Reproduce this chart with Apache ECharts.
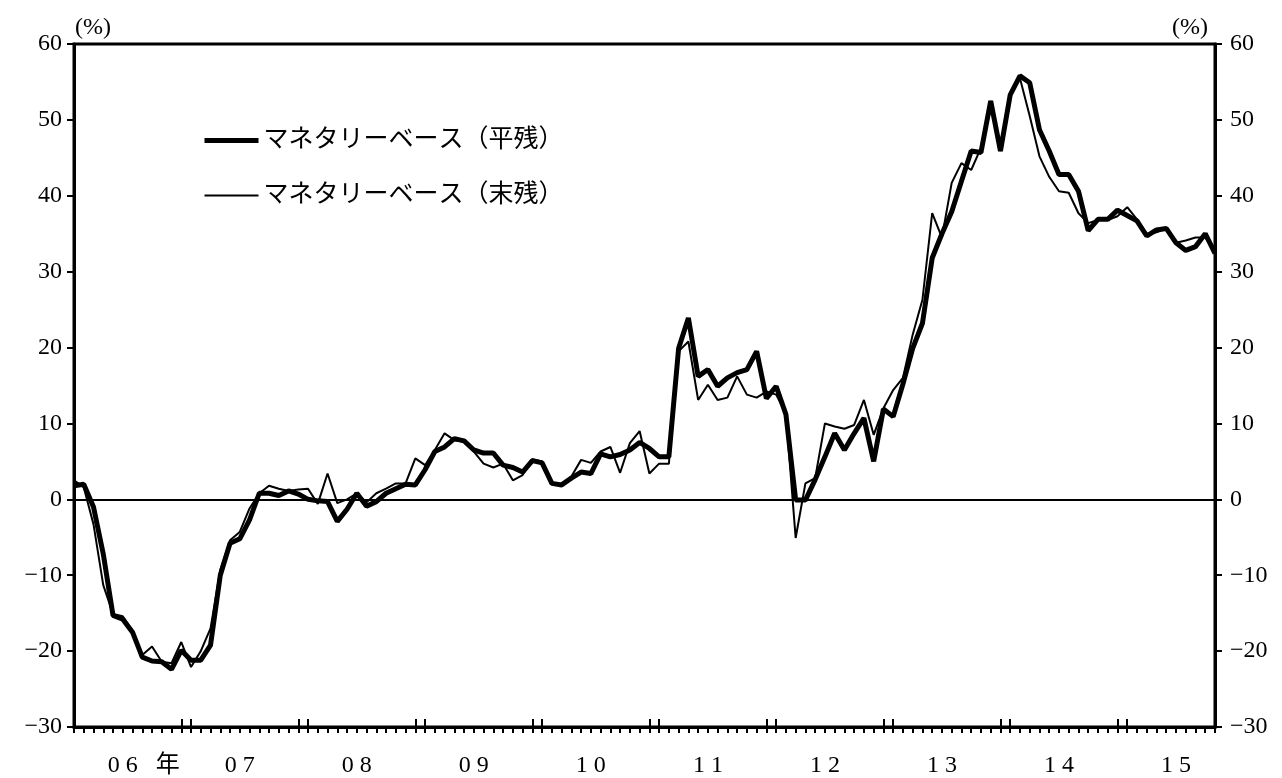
<!DOCTYPE html>
<html>
<head>
<meta charset="utf-8">
<script src="https://cdn.jsdelivr.net/npm/echarts@6/dist/echarts.min.js"></script>
<style>
  html, body { margin: 0; padding: 0; background: #fff; }
  #chart { width: 1282px; height: 778px; }
</style>
</head>
<body>
<div id="chart"></div>
<script>
// monthly data, 2006/01 - 2015/10
const years = ['2006', '2007', '2008', '2009', '2010', '2011', '2012', '2013', '2014', '2015']
const yearLabels = ['0 6   年', '0 7', '0 8', '0 9', '1 0', '1 1', '1 2', '1 3', '1 4', '1 5']
const lastMonth = 10

const months = []
years.forEach(y => {
  for (let m = 1; m <= 12; m++) {
    if (y === '2015' && m > lastMonth) break
    months.push(y + '/' + String(m).padStart(2, '0'))
  }
})

// マネタリーベース（平残）前年比
const heizan = [
  1.8, 2.0, -1.0, -7.2, -15.3, -15.8, -17.5, -20.8, -21.3, -21.4, -22.4, -19.9,
  -21.2, -21.2, -19.2, -10.0, -5.8, -5.2, -2.7, 0.8, 0.8, 0.5, 1.1, 0.7,
  0.0, -0.2, -0.3, -2.9, -1.3, 0.8, -0.9, -0.3, 0.8, 1.4, 2.0, 1.9,
  3.9, 6.3, 6.9, 8.0, 7.7, 6.5, 6.1, 6.1, 4.5, 4.2, 3.6, 5.1,
  4.8, 2.1, 1.9, 2.8, 3.6, 3.4, 6.0, 5.6, 5.9, 6.5, 7.5, 6.7,
  5.6, 5.6, 19.9, 23.9, 16.2, 17.1, 14.9, 16.0, 16.7, 17.1, 19.5, 13.3,
  14.9, 11.2, -0.1, -0.1, 2.6, 5.6, 8.7, 6.5, 8.7, 10.7, 5.0, 11.9,
  10.9, 15.2, 19.9, 23.2, 31.8, 35.0, 37.9, 41.9, 45.9, 45.7, 52.5, 45.9,
  53.3, 55.8, 54.9, 48.7, 45.9, 42.8, 42.8, 40.6, 35.4, 36.9, 36.9, 38.1,
  37.4, 36.7, 34.7, 35.5, 35.7, 33.8, 32.8, 33.3, 35.0, 32.4
]

// マネタリーベース（末残）前年比
const matsuzan = [
  2.5, 1.6, -3.3, -11.3, -15.1, -15.4, -17.3, -20.5, -19.4, -21.4, -21.6, -18.8,
  -22.1, -20.0, -17.0, -9.3, -5.4, -4.3, -1.2, 0.8, 1.8, 1.4, 1.1, 1.3,
  1.4, -0.6, 3.4, -0.5, 0.0, 0.8, -0.4, 0.8, 1.4, 2.1, 2.1, 5.4,
  4.5, 6.5, 8.7, 7.8, 7.6, 6.3, 4.7, 4.2, 4.7, 2.5, 3.2, 5.3,
  5.0, 2.0, 2.0, 3.0, 5.2, 4.8, 6.3, 6.9, 3.5, 7.4, 9.0, 3.4,
  4.7, 4.7, 19.5, 20.8, 13.1, 15.1, 13.1, 13.4, 16.2, 13.8, 13.4, 14.2,
  13.8, 11.3, -5.1, 2.1, 2.8, 10.0, 9.6, 9.3, 9.8, 13.1, 8.5, 12.0,
  14.4, 16.0, 21.7, 26.3, 37.7, 34.5, 41.7, 44.3, 43.4, 46.3, 52.5, 45.9,
  53.5, 55.5, 50.5, 45.2, 42.5, 40.6, 40.4, 37.7, 36.4, 36.8, 36.8, 37.3,
  38.5, 36.9, 35.0, 35.2, 35.7, 33.8, 34.1, 34.5, 34.5, 32.8
]

const seriesNames = ['マネタリーベース（平残）', 'マネタリーベース（末残）']

const FONT = '"Liberation Serif", "Noto Sans CJK JP", serif'
const fmtY = v => (v < 0 ? '\u2212' + Math.abs(v) : String(v))

const chart = echarts.init(document.getElementById('chart'))

const yAxisBase = {
  type: 'value',
  min: -30,
  max: 60,
  interval: 10,
  name: '(%)',
  nameLocation: 'end',
  nameGap: 4,
  axisLine: { show: true, onZero: false, lineStyle: { color: '#000', width: 3 } },
  axisTick: { show: true, inside: false, length: 7, lineStyle: { color: '#000', width: 2 } },
  splitLine: { show: false },
  axisLabel: { color: '#000', fontFamily: FONT, fontSize: 24, margin: 12, formatter: fmtY }
}

chart.setOption({
  animation: false,
  backgroundColor: '#fff',
  grid: {
    left: 74,
    right: 67,
    top: 44,
    bottom: 51,
    show: true,
    borderColor: '#000',
    borderWidth: 3,
    backgroundColor: 'transparent'
  },
  legend: {
    orient: 'vertical',
    left: 197,
    top: 123,
    itemWidth: 54,
    itemHeight: 20,
    itemGap: 30,
    itemStyle: { opacity: 0 },
    data: [
      { name: seriesNames[0], lineStyle: { color: '#000', width: 5 } },
      { name: seriesNames[1], lineStyle: { color: '#000', width: 2 } }
    ],
    textStyle: { color: '#000', fontFamily: FONT, fontSize: 25 }
  },
  xAxis: [
    {
      type: 'category',
      data: months,
      boundaryGap: false,
      axisLine: { show: true, onZero: false, lineStyle: { color: '#000', width: 3 } },
      axisTick: { show: true, inside: false, length: 6, interval: 0, lineStyle: { color: '#000', width: 2 } },
      splitLine: { show: false },
      axisLabel: {
        color: '#000',
        fontFamily: FONT,
        fontSize: 24,
        margin: 27,
        interval: (i) => i % 12 === 5,
        formatter: (v) => {
          const idx = years.indexOf(v.slice(0, 4))
          return idx === 0 ? '{first|' + yearLabels[idx] + '}' : yearLabels[idx]
        },
        rich: {
          first: { fontFamily: FONT, fontSize: 24, color: '#000', padding: [0, 0, 0, 42] }
        }
      }
    },
    {
      type: 'category',
      data: months,
      boundaryGap: false,
      position: 'bottom',
      axisLine: { show: false, onZero: false },
      axisLabel: { show: false },
      splitLine: { show: false },
      axisTick: {
        show: true,
        inside: true,
        length: 8,
        interval: (i) => i % 12 === 11 || (i % 12 === 0 && i > 0),
        lineStyle: { color: '#000', width: 2 }
      }
    }
  ],
  yAxis: [
    Object.assign({}, yAxisBase, {
      position: 'left',
      nameTextStyle: { color: '#000', fontFamily: FONT, fontSize: 24, align: 'left', verticalAlign: 'bottom', padding: [0, 0, 0, 1] }
    }),
    Object.assign({}, yAxisBase, {
      position: 'right',
      axisLabel: Object.assign({}, yAxisBase.axisLabel, { margin: 15 }),
      nameTextStyle: { color: '#000', fontFamily: FONT, fontSize: 24, align: 'right', verticalAlign: 'bottom', padding: [0, 7, 0, 0] }
    })
  ],
  series: [
    {
      name: seriesNames[0],
      type: 'line',
      data: heizan,
      symbol: 'none',
      lineStyle: { color: '#000', width: 5 },
      itemStyle: { color: '#000' },
      markLine: {
        silent: true,
        symbol: ['none', 'none'],
        label: { show: false },
        lineStyle: { color: '#000', width: 2, type: 'solid' },
        data: [{ yAxis: 0 }]
      }
    },
    {
      name: seriesNames[1],
      type: 'line',
      data: matsuzan,
      symbol: 'none',
      lineStyle: { color: '#000', width: 2 },
      itemStyle: { color: '#000' }
    }
  ]
})
</script>
</body>
</html>
